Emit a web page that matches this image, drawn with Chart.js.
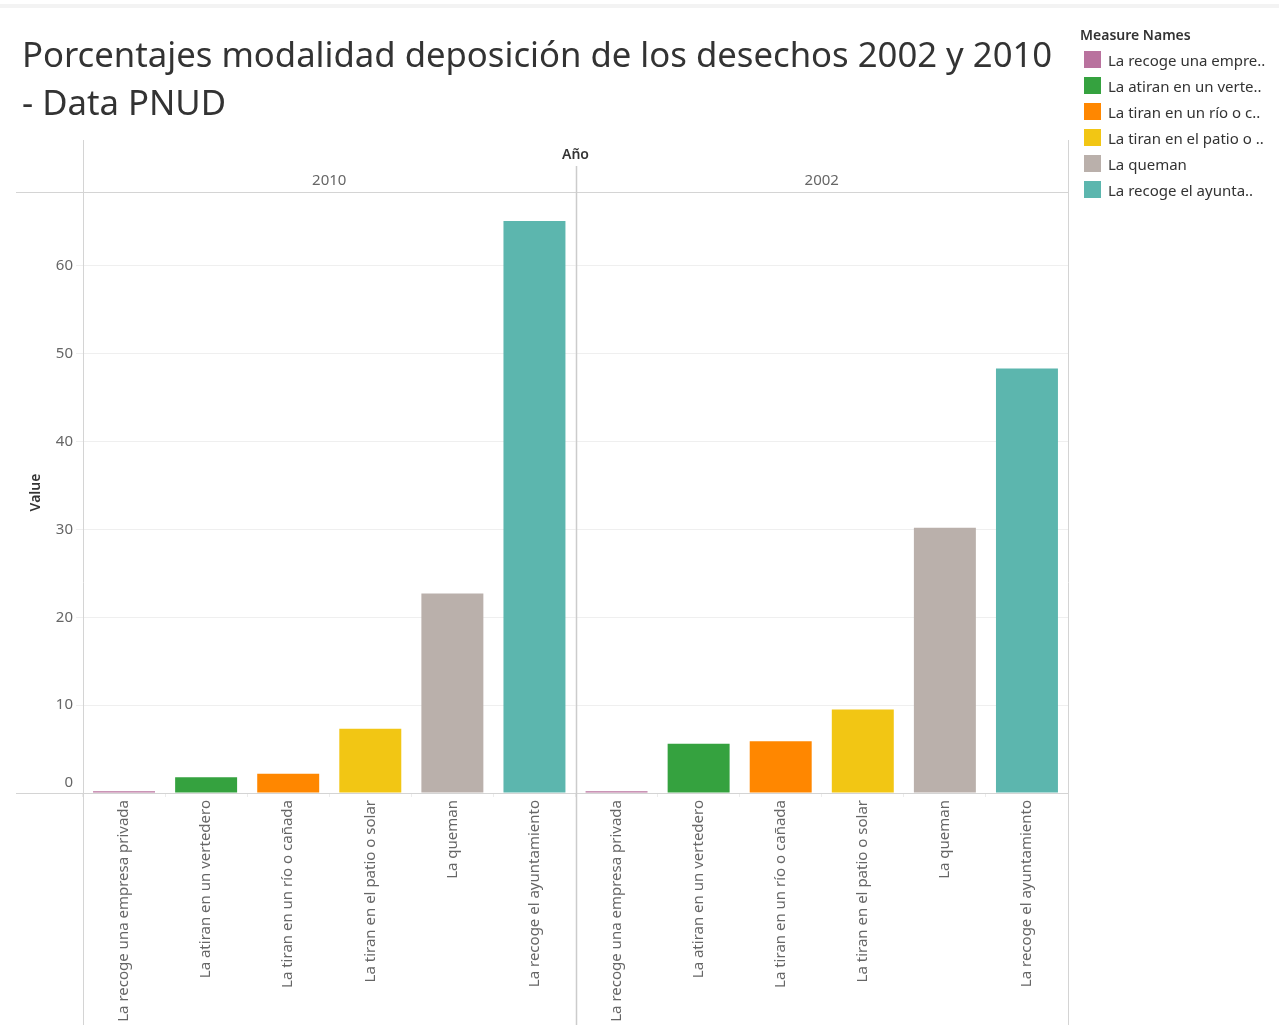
<!DOCTYPE html>
<html>
<head>
<meta charset="utf-8">
<script src="https://cdn.jsdelivr.net/npm/chart.js@4/dist/chart.umd.min.js"></script>
<style>
  html, body { margin: 0; padding: 0; background: #fff; }
  body { width: 1279px; height: 1025px; position: relative; overflow: hidden; font-family: "Noto Sans", sans-serif; }
  #topband { position: absolute; left: 0; top: 4px; width: 1279px; height: 4px; background: #f3f3f3; }
  #title { position: absolute; left: 22px; top: 30px; font-size: 34.7px; line-height: 48px; color: #333; white-space: nowrap; }
  #legend { position: absolute; left: 1080px; top: 25px; color: #333; }
  #legend .hd { font-size: 14px; font-weight: 600; margin-bottom: 6px; }
  #legend .it { position: relative; height: 26px; font-size: 15px; line-height: 20px; padding-left: 28px; white-space: nowrap; }
  #legend .sw { position: absolute; left: 4px; top: 1px; width: 17px; height: 17px; }
  #c { position: absolute; left: 0; top: 0; }
</style>
</head>
<body>
<div id="topband"></div>
<canvas id="c" width="1279" height="1025"></canvas>
<div id="title">Porcentajes modalidad deposición de los desechos 2002 y 2010<br>- Data PNUD</div>
<div id="legend"></div>
<script>
const categories = [
  'La recoge una empresa privada',
  'La atiran en un vertedero',
  'La tiran en un río o cañada',
  'La tiran en el patio o solar',
  'La queman',
  'La recoge el ayuntamiento'
];
const legendLabels = [
  'La recoge una empre..',
  'La atiran en un verte..',
  'La tiran en un río o c..',
  'La tiran en el patio o ..',
  'La queman',
  'La recoge el ayunta..'
];
const years = ['2010', '2002'];
const values2010 = [0.2, 1.8, 2.2, 7.3, 22.7, 65.1];
const values2002 = [0.2, 5.6, 5.9, 9.5, 30.2, 48.3];
const colors = ['#b9729e', '#35a23f', '#ff8700', '#f2c614', '#bab0ab', '#5cb6ae'];
const yTicks = [0, 10, 20, 30, 40, 50, 60];

// legend
const lg = document.getElementById('legend');
lg.innerHTML = '<div class="hd">Measure Names</div>' + legendLabels.map((l, i) =>
  '<div class="it"><span class="sw" style="background:' + colors[i] + '"></span>' + l + '</div>').join('');

const labels = categories.concat(categories);
const data = values2010.concat(values2002);
const barColors = colors.concat(colors);

const FONT = '"Noto Sans", sans-serif';
const L = 83, R = 1068, T = 192, B = 793;

const framePlugin = {
  id: 'frame',
  afterDraw(chart) {
    const ctx = chart.ctx;
    const a = chart.chartArea;
    const mid = (a.left + a.right) / 2;
    ctx.save();
    ctx.strokeStyle = '#d4d4d4';
    ctx.lineWidth = 1;
    ctx.beginPath();
    ctx.moveTo(16, a.top + 0.5); ctx.lineTo(a.right, a.top + 0.5);
    const y0 = Math.round(chart.scales.y.getPixelForValue(0)) + 0.5;
    ctx.moveTo(16, y0); ctx.lineTo(a.right, y0);
    [a.left, a.right].forEach(x => {
      const xx = Math.round(x) + 0.5;
      ctx.moveTo(xx, 140); ctx.lineTo(xx, 1025);
    });
    ctx.stroke();
    ctx.strokeStyle = '#cccccc';
    ctx.lineWidth = 1.5;
    ctx.beginPath();
    ctx.moveTo(Math.round(mid) + 0.5, 166); ctx.lineTo(Math.round(mid) + 0.5, 1025);
    ctx.stroke();
    // headers
    ctx.fillStyle = '#333';
    ctx.font = '600 14px ' + FONT;
    ctx.textAlign = 'center';
    ctx.textBaseline = 'middle';
    ctx.fillText('Año', mid, 155);
    ctx.fillStyle = '#666';
    ctx.font = '15px ' + FONT;
    ctx.fillText(years[0], (a.left + mid) / 2, 181);
    ctx.fillText(years[1], (mid + a.right) / 2, 181);
    ctx.textAlign = 'right';
    ctx.fillText('0', 73, y0 - 11);
    ctx.restore();
  }
};

new Chart(document.getElementById('c'), {
  type: 'bar',
  data: {
    labels: labels,
    datasets: [{
      data: data,
      backgroundColor: barColors,
      borderWidth: 0,
      categoryPercentage: 1,
      barPercentage: 0.755
    }]
  },
  options: {
    responsive: false,
    animation: false,
    layout: { padding: { left: 0, right: 1279 - R, top: T, bottom: 0 } },
    plugins: { legend: { display: false }, tooltip: { enabled: false } },
    scales: {
      x: {
        type: 'category',
        grid: { display: true, drawOnChartArea: false, offset: true, tickLength: 4, color: '#ececec' },
        border: { display: false },
        ticks: {
          minRotation: 90, maxRotation: 90, autoSkip: false, padding: 3,
          color: '#666', font: { family: FONT, size: 15 }
        },
        afterFit(s) { s.height = 1025 - B; }
      },
      y: {
        min: 0, max: 68.4,
        grid: {
          color: (c) => (c.tick && c.tick.value === 0) ? 'rgba(0,0,0,0)' : '#efefef',
          tickLength: 7
        },
        border: { display: false },
        afterBuildTicks(s) { s.ticks = yTicks.map(v => ({ value: v })); },
        ticks: {
          padding: 3, color: '#666', font: { family: FONT, size: 15 },
          callback: (v) => v === 0 ? '' : String(v)
        },
        title: {
          display: true, text: 'Value', color: '#333',
          font: { family: FONT, size: 14, weight: '600' },
          padding: { top: 28, bottom: 0 }
        },
        afterFit(s) { s.width = L; }
      }
    }
  },
  plugins: [framePlugin]
});
</script>
</body>
</html>
